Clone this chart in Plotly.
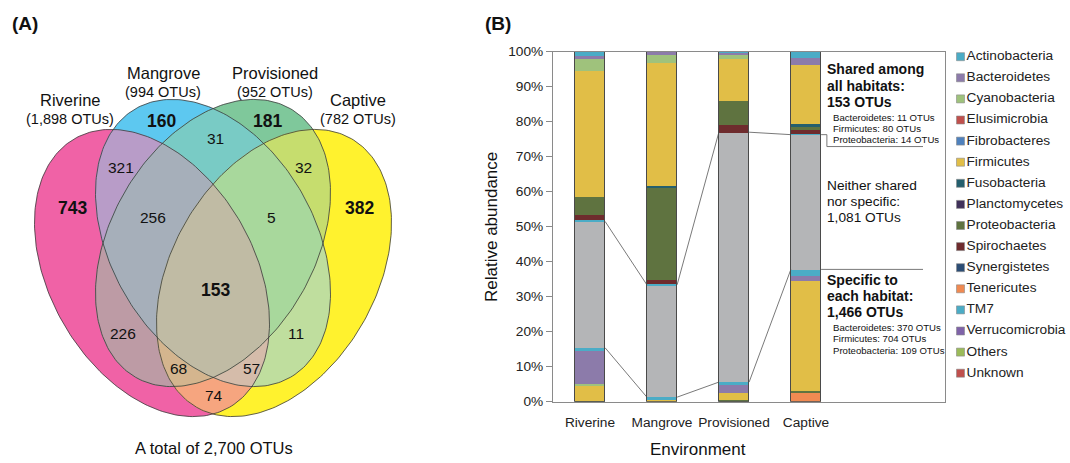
import numpy as np
import plotly.graph_objects as go
from itertools import combinations

FONT = "Liberation Sans, Arial, sans-serif"
W, H = 1070, 463

# ---------------- Venn data (panel A) ----------------
set_names = ["Riverine", "Mangrove", "Provisioned", "Captive"]
set_keys = ["R", "M", "P", "C"]
set_totals = ["(1,898 OTUs)", "(994 OTUs)", "(952 OTUs)", "(782 OTUs)"]
region_keys = ["R", "M", "P", "C", "RM", "MP", "PC", "RMP", "MPC", "RMPC",
               "RP", "MC", "RPC", "RMC", "RC"]
region_counts = [743, 160, 181, 382, 321, 31, 32, 256, 5, 153, 226, 11, 68, 57, 74]
bold_regions = ["R", "M", "P", "C", "RMPC"]
total_text = "A total of 2,700 OTUs"

# region fill colours (style)
region_colors = {
    "R": "#F062A6", "M": "#5DC8F0", "P": "#7FC89B", "C": "#FFF22E",
    "RM": "#B89CC8", "MP": "#79CBC5", "PC": "#C6DD6E", "RP": "#BD9BA5",
    "MC": "#BFDE9E", "RC": "#F6A57F",
    "RMP": "#A6AFBA", "MPC": "#A8D89C", "RPC": "#D4B58E", "RMC": "#D5BCAA",
    "RMPC": "#C0BBA4",
}

# ---------------- Bar data (panel B) ----------------
environments = ["Riverine", "Mangrove", "Provisioned", "Captive"]
phyla = ["Actinobacteria", "Bacteroidetes", "Cyanobacteria", "Elusimicrobia",
         "Fibrobacteres", "Firmicutes", "Fusobacteria", "Planctomycetes",
         "Proteobacteria", "Spirochaetes", "Synergistetes", "Tenericutes",
         "TM7", "Verrucomicrobia", "Others", "Unknown"]
phylum_colors = ["#4BACC6", "#8C7BAA", "#9FC27C", "#C0504D", "#4F81BD",
                 "#E1BE47", "#245F6E", "#40315A", "#5F7340", "#6E2B2D",
                 "#2C4D75", "#F08A52", "#4BACC6", "#7F63A8", "#9BBB59", "#C0504D"]
# % relative abundance of habitat-specific OTUs (bottom of each bar)
specific = {
    "Actinobacteria": [0.8, 0.5, 0.6, 1.9],
    "Bacteroidetes":  [9.5, 0.0, 2.3, 1.3],
    "Cyanobacteria":  [0.6, 0.0, 0.0, 0.0],
    "Firmicutes":     [4.1, 0.8, 2.2, 31.5],
    "Proteobacteria": [0.4, 0.0, 0.5, 0.5],
    "Tenericutes":    [0.0, 0.0, 0.0, 2.6],
}
# % relative abundance of OTUs neither shared nor specific (grey)
neither = [36.1, 32.1, 71.4, 38.5]
# % relative abundance of OTUs shared among all habitats (top of each bar)
shared = {
    "Actinobacteria": [1.0, 0.0, 0.2, 1.6],
    "Bacteroidetes":  [1.1, 0.8, 0.5, 2.2],
    "Cyanobacteria":  [3.4, 2.2, 1.4, 0.0],
    "Firmicutes":     [35.9, 35.2, 12.0, 16.9],
    "Fusobacteria":   [0.0, 0.5, 0.0, 0.7],
    "Proteobacteria": [5.3, 26.3, 6.8, 0.8],
    "Spirochaetes":   [1.4, 1.2, 2.1, 1.1],
    "TM7":            [0.4, 0.4, 0.0, 0.4],
}
neither_color = "#B4B5B7"
y_ticks = list(range(0, 101, 10))

shared_note = ["Bacteroidetes: 11 OTUs", "Firmicutes: 80 OTUs", "Proteobacteria: 14 OTUs"]
specific_note = ["Bacteroidetes: 370 OTUs", "Firmicutes: 704 OTUs", "Proteobacteria: 109 OTUs"]

# ---------------- helpers ----------------
def px(x):
    return x / W

def py(y):
    return 1 - y / H

def ellipse_pts(cx, cy, a, b, ang, n=240):
    t = np.linspace(0, 2 * np.pi, n, endpoint=False)
    th = np.radians(ang)
    x = cx + a * np.cos(t) * np.cos(th) - b * np.sin(t) * np.sin(th)
    y = cy + a * np.cos(t) * np.sin(th) + b * np.sin(t) * np.cos(th)
    return list(zip(x, y))

def clip(subject, clipper):
    out = list(subject)
    n = len(clipper)
    for i in range(n):
        if not out:
            break
        a = clipper[i]
        b = clipper[(i + 1) % n]

        def inside(p):
            return (b[0] - a[0]) * (p[1] - a[1]) - (b[1] - a[1]) * (p[0] - a[0]) >= 0

        def inter(p, q):
            x1, y1 = p; x2, y2 = q; x3, y3 = a; x4, y4 = b
            den = (x1 - x2) * (y3 - y4) - (y1 - y2) * (x3 - x4)
            t = ((x1 - x3) * (y3 - y4) - (y1 - y3) * (x3 - x4)) / den
            return (x1 + t * (x2 - x1), y1 + t * (y2 - y1))

        inp = out
        out = []
        s = inp[-1]
        for e in inp:
            if inside(e):
                if not inside(s):
                    out.append(inter(s, e))
                out.append(e)
            elif inside(s):
                out.append(inter(s, e))
            s = e
    return out

fig = go.Figure()

# ---------------- Panel A: Venn ----------------
E_A, E_B = 155, 102
ell_geom = {
    "R": (152, 273, 60),
    "M": (213, 243, 60),
    "P": (213, 243, 120),
    "C": (274, 273, 120),
}
polys = {k: ellipse_pts(ell_geom[k][0], ell_geom[k][1], E_A, E_B, ell_geom[k][2])
         for k in set_keys}

# painter's algorithm: each k-fold intersection drawn over the (k-1)-fold ones
for r in range(1, 5):
    for combo in combinations(set_keys, r):
        poly = polys[combo[0]]
        for k in combo[1:]:
            poly = clip(poly, polys[k])
        if len(poly) < 3:
            continue
        xs = [p[0] for p in poly] + [poly[0][0]]
        ys = [p[1] for p in poly] + [poly[0][1]]
        fig.add_trace(go.Scatter(
            x=xs, y=ys, mode="lines", fill="toself",
            fillcolor=region_colors["".join(combo)],
            line=dict(width=0.3, color=region_colors["".join(combo)]),
            showlegend=False, hoverinfo="skip", xaxis="x", yaxis="y"))

for k in set_keys:
    poly = polys[k]
    fig.add_trace(go.Scatter(
        x=[p[0] for p in poly] + [poly[0][0]],
        y=[p[1] for p in poly] + [poly[0][1]],
        mode="lines", line=dict(color="#3a3a3a", width=0.8),
        showlegend=False, hoverinfo="skip", xaxis="x", yaxis="y"))

region_pos = {
    "R": (72, 208), "M": (161, 121), "P": (267, 121), "C": (359, 208),
    "RM": (121, 167), "MP": (215, 138), "PC": (303, 167),
    "RMP": (153, 217), "MPC": (271, 217), "RMPC": (215, 290),
    "RP": (123, 333), "MC": (296, 333), "RPC": (178, 368), "RMC": (251, 368),
    "RC": (214, 395),
}
annotations = []
for key, cnt in zip(region_keys, region_counts):
    x, y = region_pos[key]
    bold = key in bold_regions
    annotations.append(dict(
        x=x, y=y, xref="x", yref="y", showarrow=False,
        xanchor="center", yanchor="middle",
        text=("<b>%d</b>" % cnt) if bold else str(cnt),
        font=dict(family=FONT, size=17.5 if bold else 15.5, color="#111")))

name_pos = [(70, 100), (163, 73), (275, 73), (358, 100)]
for nm, tot, (x, y) in zip(set_names, set_totals, name_pos):
    annotations.append(dict(x=x, y=y, xref="x", yref="y", showarrow=False, text=nm,
                            xanchor="center", yanchor="middle",
                            font=dict(family=FONT, size=16.5, color="#111")))
    annotations.append(dict(x=x, y=y + 18.5, xref="x", yref="y", showarrow=False, text=tot,
                            xanchor="center", yanchor="middle",
                            font=dict(family=FONT, size=14.5, color="#111")))
annotations.append(dict(x=214, y=448, xref="x", yref="y", showarrow=False, text=total_text,
                        xanchor="center", yanchor="middle",
                        font=dict(family=FONT, size=16.5, color="#111")))
annotations.append(dict(x=px(10), y=py(24), xref="paper", yref="paper", xanchor="left",
                        yanchor="middle", showarrow=False, text="<b>(A)</b>",
                        font=dict(family=FONT, size=19, color="#111")))

# ---------------- Panel B: stacked bars ----------------
idx = list(range(len(environments)))
BW = 0.42
pcol = dict(zip(phyla, phylum_colors))

for ph in reversed(phyla):
    if ph in specific:
        fig.add_trace(go.Bar(x=idx, y=specific[ph], width=BW, name=ph,
                             marker=dict(color=pcol[ph], line=dict(width=0)),
                             showlegend=False, hoverinfo="skip",
                             xaxis="x2", yaxis="y2"))
fig.add_trace(go.Bar(x=idx, y=neither, width=BW, name="Neither",
                     marker=dict(color=neither_color, line=dict(width=0)),
                     showlegend=False, hoverinfo="skip", xaxis="x2", yaxis="y2"))
for ph in reversed(phyla):
    if ph in shared:
        fig.add_trace(go.Bar(x=idx, y=shared[ph], width=BW, name=ph,
                             marker=dict(color=pcol[ph], line=dict(width=0)),
                             showlegend=False, hoverinfo="skip",
                             xaxis="x2", yaxis="y2"))

spec_top = [sum(v[i] for v in specific.values()) for i in idx]
shared_bottom = [spec_top[i] + neither[i] for i in idx]
totals = [shared_bottom[i] + sum(v[i] for v in shared.values()) for i in idx]

fig.add_trace(go.Bar(x=idx, y=totals, width=BW,
                     marker=dict(color="rgba(0,0,0,0)", line=dict(color="#4a4a4a", width=1)),
                     showlegend=False, hoverinfo="skip", xaxis="x2", yaxis="y4"))

line_style = dict(color="#6a6a6a", width=0.9)
for lvl in (spec_top, shared_bottom):
    for i in idx[:-1]:
        fig.add_trace(go.Scatter(x=[i + BW / 2, i + 1 - BW / 2], y=[lvl[i], lvl[i + 1]],
                                 mode="lines", line=line_style, showlegend=False,
                                 hoverinfo="skip", xaxis="x2", yaxis="y2"))
last = idx[-1]
XB1, XB2, YB = 3.29, 4.625, 72.9
fig.add_trace(go.Scatter(x=[last + BW / 2, XB1, XB1, XB2],
                         y=[shared_bottom[last], shared_bottom[last], YB, YB],
                         mode="lines", line=line_style, showlegend=False,
                         hoverinfo="skip", xaxis="x2", yaxis="y2"))
fig.add_trace(go.Scatter(x=[last + BW / 2, XB2], y=[spec_top[last], spec_top[last]],
                         mode="lines", line=line_style, showlegend=False,
                         hoverinfo="skip", xaxis="x2", yaxis="y2"))

# custom legend
LEG_Y0, LEG_DY = 56.7, 21.1
fig.add_trace(go.Scatter(
    x=[960.5] * len(phyla), y=[LEG_Y0 + LEG_DY * i for i in range(len(phyla))],
    mode="markers+text", text=phyla, textposition="middle right",
    textfont=dict(family=FONT, size=13.7, color="#222"),
    marker=dict(symbol="square", size=8, color=phylum_colors,
                line=dict(color="#8a8a8a", width=0.6)),
    showlegend=False, hoverinfo="skip", xaxis="x3", yaxis="y3"))

def note(x, y, text, size, bold=False):
    annotations.append(dict(x=px(x), y=py(y), xref="paper", yref="paper",
                            xanchor="left", yanchor="middle", showarrow=False,
                            text=("<b>%s</b>" % text) if bold else text,
                            font=dict(family=FONT, size=size, color="#111")))

for j, t in enumerate(["Shared among", "all habitats:", "153 OTUs"]):
    note(825, 69 + 16.5 * j, t, 14, True)
for j, t in enumerate(shared_note):
    note(831, 117 + 11.2 * j, t, 9.6)
for j, t in enumerate(["Neither shared", "nor specific:", "1,081 OTUs"]):
    note(825, 185.5 + 15.8 * j, t, 13.7)
for j, t in enumerate(["Specific to", "each habitat:", "1,466 OTUs"]):
    note(825, 280 + 15.8 * j, t, 14, True)
for j, t in enumerate(specific_note):
    note(831, 327 + 11.5 * j, t, 9.6)

annotations.append(dict(x=px(491), y=py(227), xref="paper", yref="paper", textangle=-90,
                        xanchor="center", yanchor="middle",
                        showarrow=False, text="Relative abundance",
                        font=dict(family=FONT, size=17, color="#111")))
annotations.append(dict(x=px(698), y=py(449), xref="paper", yref="paper",
                        xanchor="center", yanchor="middle",
                        showarrow=False, text="Environment",
                        font=dict(family=FONT, size=17, color="#111")))
annotations.append(dict(x=px(483), y=py(24), xref="paper", yref="paper", xanchor="left",
                        yanchor="middle", showarrow=False, text="<b>(B)</b>",
                        font=dict(family=FONT, size=19, color="#111")))

X0, X1 = 553, 945
Y100, Y0 = 51.7, 401.7
cat0, step = 590.0, 72.0

fig.update_layout(
    width=W, height=H, margin=dict(l=0, r=0, t=0, b=0, autoexpand=False),
    paper_bgcolor="white", plot_bgcolor="rgba(0,0,0,0)",
    barmode="stack", bargap=0, hovermode=False, showlegend=False,
    font=dict(family=FONT, color="#222"),
    xaxis=dict(domain=[0, 460 / W], range=[0, 460], visible=False, fixedrange=True),
    yaxis=dict(domain=[0, 1], range=[H, 0], visible=False, fixedrange=True),
    xaxis2=dict(domain=[px(X0), px(X1)],
                range=[(X0 - cat0) / step, (X1 - cat0) / step],
                tickvals=idx, ticktext=environments, ticks="",
                ticklabelstandoff=8,
                tickfont=dict(family=FONT, size=13.7, color="#222"),
                showline=True, linecolor="#8a8a8a", linewidth=1, mirror=True,
                showgrid=False, zeroline=False, anchor="y2"),
    yaxis2=dict(domain=[py(Y0), py(Y100)], range=[0, 100],
                tickvals=y_ticks, ticktext=["%d%%" % v for v in y_ticks],
                ticks="outside", ticklen=6, tickcolor="#8a8a8a",
                tickfont=dict(family=FONT, size=13.7, color="#222"),
                showline=True, linecolor="#8a8a8a", linewidth=1, mirror=True,
                showgrid=False, zeroline=False, anchor="x2"),
    yaxis4=dict(overlaying="y2", range=[0, 100], visible=False, anchor="x2"),
    xaxis3=dict(domain=[px(950), 1], range=[950, W], visible=False),
    yaxis3=dict(domain=[0, 1], range=[H, 0], visible=False, anchor="x3"),
    annotations=annotations,
)

fig.write_html("out.html", config={"displayModeBar": False},
               post_script="document.body.style.margin='0';"
                           "document.body.style.padding='0';"
                           "document.body.style.overflow='hidden';"
                           "document.documentElement.style.overflow='hidden';")
